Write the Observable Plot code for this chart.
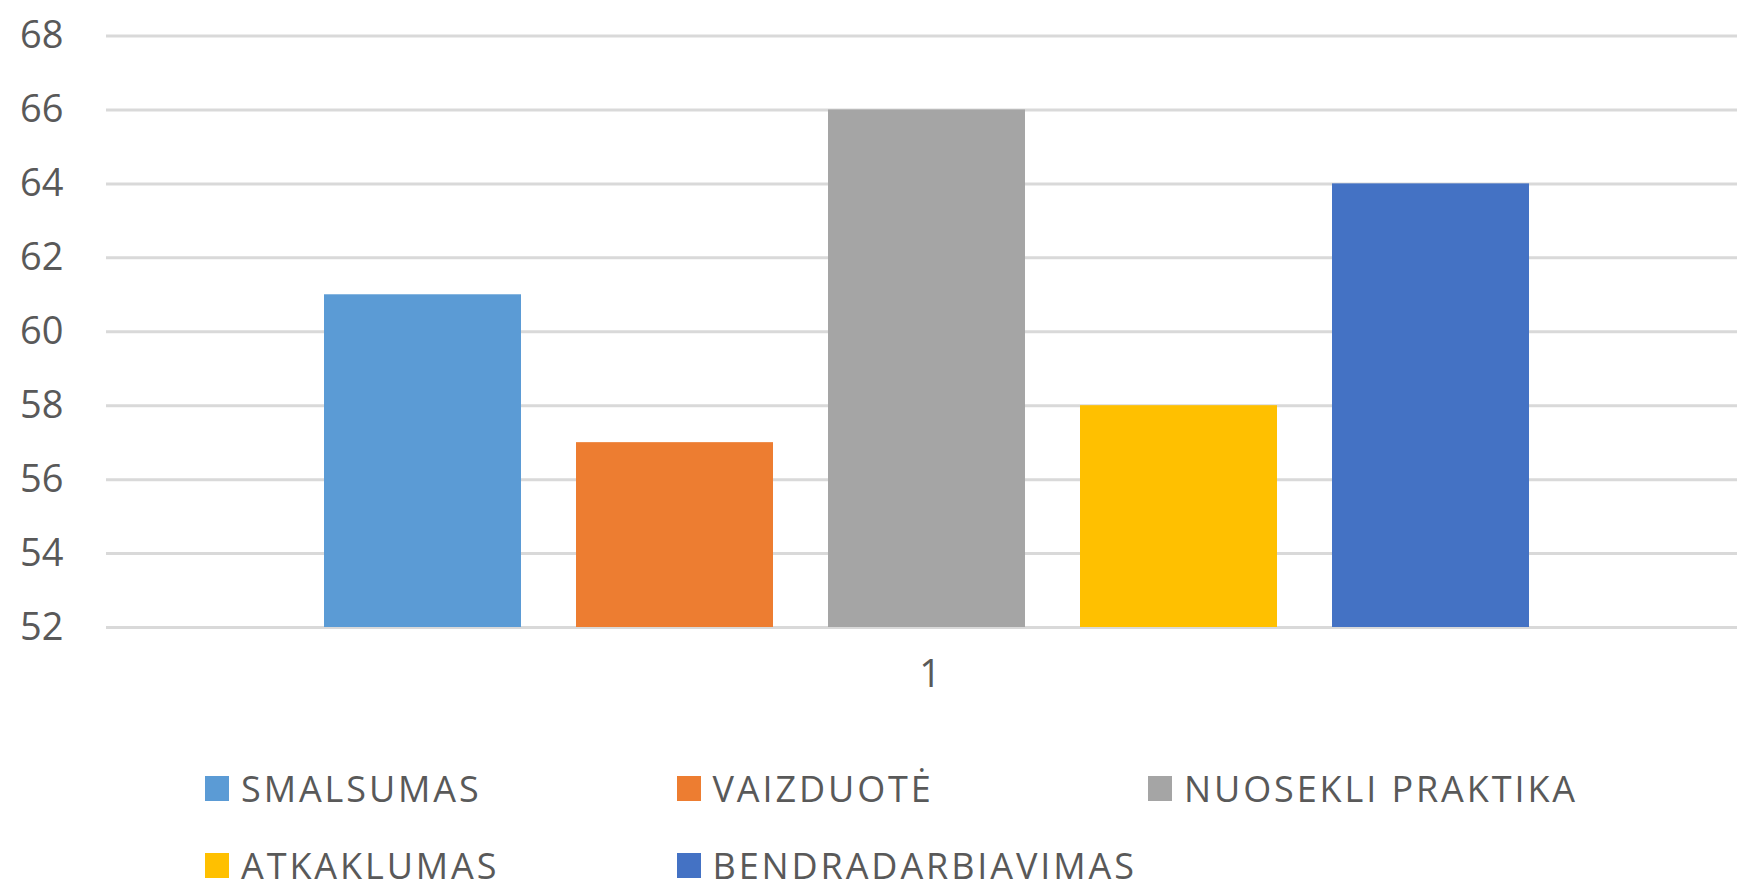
<!DOCTYPE html>
<html>
<head>
<meta charset="utf-8">
<script src="https://cdn.jsdelivr.net/npm/d3@7"></script>
<script src="https://cdn.jsdelivr.net/npm/@observablehq/plot@0.6"></script>
<style>
  html, body { margin: 0; padding: 0; background: #fff; overflow: hidden; }
  #chart svg { display: block; }
  #legend { display: flex; flex-wrap: wrap; padding-left: 205px; width: 1737px; box-sizing: border-box;
            font-family: "Open Sans", sans-serif; font-size: 36px; line-height: 36px; color: #595959; letter-spacing: 2.9px; }
  .item { width: 471.5px; height: 77px; display: flex; align-items: center; white-space: nowrap; }
  .sw { width: 24px; height: 25px; margin-right: 12px; flex: none; }
</style>
</head>
<body>
<div id="chart"></div>
<div id="legend"></div>
<script>
const categories = ["1"];
const series = ["SMALSUMAS", "VAIZDUOTĖ", "NUOSEKLI PRAKTIKA", "ATKAKLUMAS", "BENDRADARBIAVIMAS"];
const values = [61, 57, 66, 58, 64];
const colors = ["#5B9BD5", "#ED7D31", "#A5A5A5", "#FFC000", "#4472C4"];
const yTicks = [52, 54, 56, 58, 60, 62, 64, 66, 68];

const data = series.map((s, i) => ({series: s, value: values[i], category: categories[0]}));
const yMin = yTicks[0];

const plot = Plot.plot({
  width: 1737,
  height: 750,
  marginTop: 35.5,
  marginBottom: 123,
  marginLeft: 106,
  marginRight: 0,
  style: {fontFamily: "Open Sans, sans-serif", color: "#595959", background: "#fff"},
  x: {type: "band", domain: series, range: [323.5, 1530], paddingInner: 0.218, paddingOuter: 0, axis: null},
  y: {domain: [yTicks[0], yTicks[yTicks.length - 1]], axis: null},
  color: {domain: series, range: colors},
  marks: [
    Plot.ruleY(yTicks, {stroke: "#d9d9d9", strokeWidth: 3}),
    Plot.barY(data, {x: "series", y1: () => yMin, y2: "value", fill: "series"}),
    Plot.axisY(yTicks, {tickSize: 0, tickPadding: 43, fontSize: 38, fill: "#595959", label: null}),
    Plot.text(categories, {text: d => d, frameAnchor: "bottom", dy: 59, dx: 8, fontSize: 38, fill: "#595959"})
  ]
});
document.getElementById("chart").appendChild(plot);

const legend = document.getElementById("legend");
series.forEach((s, i) => {
  const item = document.createElement("div");
  item.className = "item";
  const sw = document.createElement("span");
  sw.className = "sw";
  sw.style.background = colors[i];
  const label = document.createElement("span");
  label.textContent = s;
  item.appendChild(sw);
  item.appendChild(label);
  legend.appendChild(item);
});
</script>
</body>
</html>
